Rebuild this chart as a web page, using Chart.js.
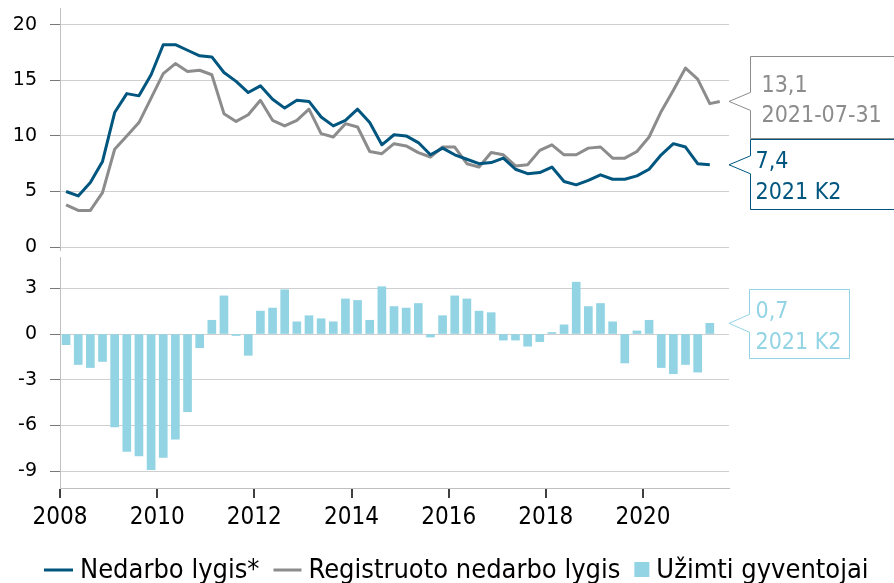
<!DOCTYPE html>
<html>
<head>
<meta charset="utf-8">
<script src="https://cdn.jsdelivr.net/npm/chart.js@4.4.1/dist/chart.umd.min.js"></script>
<style>
html,body{margin:0;padding:0;background:#fff;}
#wrap{width:894px;height:583px;position:relative;}
</style>
</head>
<body>
<div id="wrap"><canvas id="c" width="894" height="583"></canvas></div>
<script>
// ---- Categories: quarters 2008 K1 .. 2021 K2 ----
const firstYear = 2008, lastYear = 2021, lastQuarter = 2;
const quarterLabels = [];
const quarterX = [];
for (let y = firstYear; y <= lastYear; y++) {
  for (let q = 1; q <= 4; q++) {
    if (y === lastYear && q > lastQuarter) break;
    quarterLabels.push(y + ' K' + q);
    quarterX.push(y + (q - 1) * 0.25 + 0.125);
  }
}

// ---- Series values ----
const unemploymentRate = [
  5.0, 4.6, 5.8, 7.7,
  12.1, 13.8, 13.6, 15.5,
  18.2, 18.2, 17.7, 17.2,
  17.1, 15.7, 14.9, 13.9,
  14.5, 13.3, 12.5, 13.2,
  13.1, 11.7, 10.9, 11.4,
  12.4, 11.2, 9.2, 10.1,
  10.0, 9.4, 8.3, 8.9,
  8.3, 7.9, 7.5, 7.6,
  8.0, 7.0, 6.6, 6.7,
  7.2, 5.9, 5.6, 6.0,
  6.5, 6.1, 6.1, 6.4,
  7.0, 8.3, 9.3, 9.0,
  7.5, 7.4
];
const registeredRate = [
  3.8, 3.3, 3.3, 4.9,
  8.8, 10.0, 11.2, 13.4,
  15.6, 16.5, 15.8, 15.9,
  15.5, 12.0, 11.3, 11.9,
  13.2, 11.4, 10.9, 11.4,
  12.4, 10.2, 9.9, 11.1,
  10.8, 8.6, 8.4, 9.3,
  9.1, 8.5, 8.1, 9.0,
  9.0, 7.5, 7.2, 8.5,
  8.3, 7.3, 7.4, 8.7,
  9.2, 8.3, 8.3, 8.9,
  9.0, 8.0, 8.0, 8.6,
  9.9, 12.2, 14.1, 16.1,
  15.1, 12.9
];
const registeredLastDate = '2021-07-31';
const registeredLastValue = 13.1;
const employedChange = [
  -0.7, -2.0, -2.2, -1.8,
  -6.1, -7.7, -8.0, -8.9,
  -8.1, -6.9, -5.1, -0.9,
  0.9, 2.5, -0.1, -1.4,
  1.5, 1.7, 2.9, 0.8,
  1.2, 1.0, 0.8, 2.3,
  2.2, 0.9, 3.1, 1.8,
  1.7, 2.0, -0.2, 1.2,
  2.5, 2.3, 1.5, 1.4,
  -0.4, -0.4, -0.8, -0.5,
  0.1, 0.6, 3.4, 1.8,
  2.0, 0.8, -1.9, 0.2,
  0.9, -2.2, -2.6, -2.0,
  -2.5, 0.7
];
const xTickYears = [2008, 2010, 2012, 2014, 2016, 2018, 2020];
const topTickLabels = [0, 5, 10, 15, 20];
const bottomTickLabels = [-9, -6, -3, 0, 3];
const seriesNames = ['Nedarbo lygis*', 'Registruoto nedarbo lygis', 'Užimti gyventojai'];

// ---- Styles ----
const BLUE = '#00567f', GREY = '#8c8c8c', LBLUE = '#92d4e4';
const CONDENSED = '"DejaVu Sans Condensed", "DejaVu Sans", sans-serif';

function dateToDecimal(s) {
  const d = new Date(s + 'T12:00:00Z');
  const y = d.getUTCFullYear();
  const start = Date.UTC(y, 0, 1), end = Date.UTC(y + 1, 0, 1);
  return y + (d.getTime() - start) / (end - start);
}

const blueData = quarterX.map((x, i) => ({x, y: unemploymentRate[i]}));
const greyData = quarterX.map((x, i) => ({x, y: registeredRate[i]}));
greyData.push({x: dateToDecimal(registeredLastDate), y: registeredLastValue});
const barData = quarterX.map((x, i) => ({x, y: employedChange[i]}));

const fmt = v => v.toFixed(1).replace('.', ',');

function drawCallout(ctx, o) {
  const pt = Math.max(o.top + 2, o.tipY - 9), pb = Math.min(o.bottom - 2, o.tipY + 9);
  ctx.save();
  ctx.beginPath();
  ctx.moveTo(o.left, o.top);
  ctx.lineTo(o.right, o.top);
  ctx.lineTo(o.right, o.bottom);
  ctx.lineTo(o.left, o.bottom);
  ctx.lineTo(o.left, pb);
  ctx.lineTo(o.tipX, o.tipY);
  ctx.lineTo(o.left, pt);
  ctx.closePath();
  ctx.fillStyle = '#fff';
  ctx.fill();
  ctx.lineWidth = 1;
  ctx.strokeStyle = o.color;
  ctx.stroke();
  ctx.fillStyle = o.color;
  ctx.font = '23px ' + CONDENSED;
  ctx.textBaseline = 'alphabetic';
  ctx.textAlign = 'left';
  ctx.fillText(o.line1, o.left + o.textDx, o.top + o.b1);
  ctx.fillText(o.line2, o.left + o.textDx, o.top + o.b2);
  ctx.restore();
}

const calloutPlugin = {
  id: 'callouts',
  afterDraw(chart) {
    const ctx = chart.ctx;
    const area = chart.chartArea;
    const y = chart.scales.y, y2 = chart.scales.y2, xs = chart.scales.x;
    const tipX = area.right;

    // small break in the vertical axis between the two panels
    ctx.save();
    ctx.fillStyle = '#fff';
    const zeroPx = y.getPixelForValue(0);
    ctx.fillRect(area.left - 2, zeroPx + 4, 4, y.bottom - zeroPx - 4);
    ctx.restore();

    // x-axis tick marks
    ctx.save();
    ctx.strokeStyle = '#404040';
    ctx.lineWidth = 2;
    xTickYears.forEach(v => {
      const px = Math.round(xs.getPixelForValue(v));
      ctx.beginPath(); ctx.moveTo(px, area.bottom + 1); ctx.lineTo(px, area.bottom + 10); ctx.stroke();
    });
    ctx.restore();

    // grey (registered)
    const gTip = y.getPixelForValue(registeredLastValue);
    const gTop = Math.round(gTip - 45) + 0.5, gBot = gTop + 82;
    drawCallout(ctx, {left: 750.5, right: 900, top: gTop, bottom: gBot, tipX, tipY: gTip,
      color: GREY, line1: fmt(registeredLastValue), line2: registeredLastDate, textDx: 11, b1: 35, b2: 65});
    // blue (LFS)
    const bVal = unemploymentRate[unemploymentRate.length - 1];
    const bTip = y.getPixelForValue(bVal);
    const bTop = Math.max(gBot, Math.round(bTip - 26) + 0.5), bBot = bTop + 70;
    drawCallout(ctx, {left: 750.5, right: 900, top: bTop, bottom: bBot, tipX, tipY: bTip,
      color: BLUE, line1: fmt(bVal), line2: quarterLabels[quarterLabels.length - 1], textDx: 5, b1: 28, b2: 59});
    // bars
    const eVal = employedChange[employedChange.length - 1];
    const eTip = y2.getPixelForValue(eVal);
    const eTop = Math.round(eTip - 34) + 0.5;
    drawCallout(ctx, {left: 749.5, right: 849.5, top: eTop, bottom: eTop + 69, tipX, tipY: eTip,
      color: LBLUE, line1: fmt(eVal), line2: quarterLabels[quarterLabels.length - 1], textDx: 6, b1: 28, b2: 59});

    // ---- Legend ----
    ctx.save();
    ctx.font = '27px ' + CONDENSED;
    ctx.textBaseline = 'alphabetic';
    const items = [
      {type: 'line', color: BLUE, text: seriesNames[0], mw: 29},
      {type: 'line', color: GREY, text: seriesNames[1], mw: 28},
      {type: 'box', color: LBLUE, text: seriesNames[2], mw: 15}
    ];
    const gapMarkText = 7, gapItems = 14;
    let total = 0;
    items.forEach((it, i) => {
      it.tw = ctx.measureText(it.text).width;
      total += it.mw + gapMarkText + it.tw + (i < items.length - 1 ? gapItems : 0);
    });
    let x = Math.round(456 - total / 2);
    const cy = 570, base = 578;
    items.forEach(it => {
      if (it.type === 'line') {
        ctx.strokeStyle = it.color; ctx.lineWidth = 3;
        ctx.beginPath(); ctx.moveTo(x, cy); ctx.lineTo(x + it.mw, cy); ctx.stroke();
      } else {
        ctx.fillStyle = it.color;
        ctx.fillRect(x, cy - 8, it.mw, 15);
      }
      x += it.mw + gapMarkText;
      ctx.fillStyle = '#000';
      ctx.fillText(it.text, x, base);
      x += it.tw + gapItems;
    });
    ctx.restore();
  }
};

function fitLeft(s) { s.width = 60; s.paddingTop = 0; s.paddingBottom = 0; }

new Chart(document.getElementById('c'), {
  data: {
    datasets: [
      {type: 'line', label: seriesNames[0], data: blueData, yAxisID: 'y', borderColor: BLUE, borderWidth: 3,
        pointRadius: 0, tension: 0, order: 1, borderJoinStyle: 'round'},
      {type: 'line', label: seriesNames[1], data: greyData, yAxisID: 'y', borderColor: GREY, borderWidth: 3,
        pointRadius: 0, tension: 0, order: 2, borderJoinStyle: 'round'},
      {type: 'bar', label: seriesNames[2], data: barData, yAxisID: 'y2', backgroundColor: LBLUE,
        borderWidth: 0, barThickness: 8, order: 3}
    ]
  },
  options: {
    responsive: false,
    animation: false,
    devicePixelRatio: 1,
    layout: {padding: {left: 0, right: 165, top: 8, bottom: 0}},
    plugins: {legend: {display: false}, tooltip: {enabled: false}},
    scales: {
      x: {
        type: 'linear', position: 'bottom', min: 2008, max: 2021.77, offset: false,
        afterFit: s => { s.height = 95; s.paddingLeft = 0; s.paddingRight = 0; },
        afterBuildTicks: s => { s.ticks = xTickYears.map(v => ({value: v})); },
        ticks: {font: {family: CONDENSED, size: 24}, color: '#000', padding: 5, maxRotation: 0,
          callback: v => String(v)},
        grid: {offset: false, drawOnChartArea: false, drawTicks: true, tickLength: 10, color: 'rgba(0,0,0,0)', tickColor: 'rgba(0,0,0,0)'},
        border: {color: '#c0c0c0'}
      },
      y: {
        type: 'linear', position: 'left', stack: 'panels', stackWeight: 249, weight: 2,
        min: -0.89, max: 21.5,
        afterFit: fitLeft,
        afterBuildTicks: s => {
          const t = [];
          for (let v = 0; v <= 20; v += 2.5) t.push({value: v});
          s.ticks = t;
        },
        ticks: {font: {family: '"DejaVu Sans", sans-serif', size: 19}, color: '#000', padding: 13,
          callback: v => topTickLabels.includes(v) ? String(v) : ''},
        grid: {color: '#cfcfcf', tickColor: '#777', tickLength: 10},
        border: {color: '#c0c0c0'}
      },
      y2: {
        type: 'linear', position: 'left', stack: 'panels', stackWeight: 231, weight: 1,
        min: -10.1, max: 5.05,
        afterFit: fitLeft,
        afterBuildTicks: s => {
          const t = [];
          for (let v = -9; v <= 4; v += 1) t.push({value: v});
          s.ticks = t;
        },
        ticks: {font: {family: '"DejaVu Sans", sans-serif', size: 19}, color: '#000', padding: 13,
          callback: v => bottomTickLabels.includes(v) ? String(v) : ''},
        grid: {color: '#cfcfcf', tickColor: '#777', tickLength: 10},
        border: {color: '#c0c0c0'}
      }
    }
  },
  plugins: [calloutPlugin]
});
</script>
</body>
</html>
